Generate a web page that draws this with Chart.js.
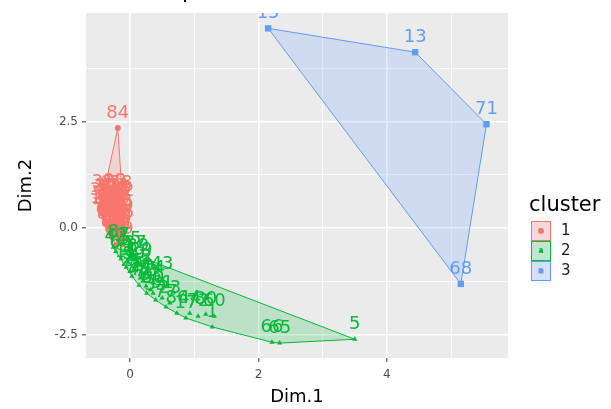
<!DOCTYPE html>
<html><head><meta charset="utf-8">
<script src="https://cdn.jsdelivr.net/npm/chart.js@4.4.1/dist/chart.umd.min.js"></script>
<style>html,body{margin:0;padding:0;background:#fff;}canvas{display:block}</style>
</head><body>
<canvas id="c" width="611" height="409"></canvas>
<script>
// ---------- data ----------
const clusterNames = ['1', '2', '3'];
const clusterColors = ['#F8766D', '#00BA38', '#619CFF'];
const clusterFills = ['rgba(248,118,109,0.2)', 'rgba(0,186,56,0.2)', 'rgba(97,156,255,0.2)'];
const clusterShapes = ['circle', 'triangle', 'rect'];

const c1X = [-0.19, -0.42, -0.33, -0.23, -0.14, -0.45, -0.37, -0.28, -0.19, -0.11, -0.44, -0.34, -0.25, -0.16,
  -0.39, -0.31, -0.22, -0.12, -0.34, -0.26, -0.17, -0.11, -0.28, -0.20, -0.12, -0.22, -0.12,
  -0.38, -0.20, -0.41, -0.23, -0.30, -0.14, -0.36, -0.19, -0.23, -0.15,
  -0.40, -0.27, -0.16, -0.35, -0.18, -0.40, -0.27, -0.20, -0.30, -0.15, -0.30, -0.17];
const c1Y = [2.35, 0.73, 0.71, 0.74, 0.70, 0.54, 0.57, 0.52, 0.55, 0.51, 0.35, 0.38, 0.33, 0.36,
  0.16, 0.19, 0.14, 0.17, -0.02, 0.01, -0.04, -0.01, -0.21, -0.18, -0.23, -0.40, -0.38,
  0.64, 0.64, 0.45, 0.44, 0.27, 0.27, 0.07, 0.08, -0.10, -0.12,
  0.60, 0.62, 0.58, 0.47, 0.42, 0.26, 0.22, 0.26, 0.10, 0.05, -0.12, -0.30];
const c1Labels = ['84', '31', '47', '22', '58', '36', '70', '41', '27', '52', '19', '63', '88', '34',
  '76', '50', '24', '39', '85', '56', '12', '45', '81', '38', '21', '67', '49',
  '30', '74', '53', '26', '87', '33', '61', '46', '78', '20',
  '4', '16', '18', '28', '32', '40', '54', '57', '62', '69', '75', '79'];

const c2X = [-0.22, -0.09, 0.00, -0.14, -0.03, 0.08, -0.06, 0.06, 0.17, 0.03, 0.16, 0.26, 0.14, 0.25, 0.37, 0.50,
  0.26, 0.36, 0.40, 0.50, 0.56, 0.62, 0.73, 0.87, 0.93, 1.06, 1.18, 1.31, 1.28, 2.21, 2.33, 3.50, -0.26,
  0.00, 0.20, 0.32, 0.12];
const c2Y = [-0.55, -0.53, -0.62, -0.72, -0.80, -0.72, -0.92, -0.96, -0.87, -1.13, -1.17, -1.03, -1.34, -1.36, -1.29, -1.20,
  -1.53, -1.53, -1.69, -1.64, -1.85, -1.76, -2.00, -2.11, -2.00, -2.07, -2.02, -2.07, -2.32, -2.68, -2.70, -2.61, -0.45,
  -1.02, -1.25, -1.45, -0.78];
const c2Labels = ['42', '7', '55', '64', '3', '37', '11', '59', '29', '25', '82', '2', '48', '73', '14', '43',
  '6', '90', '35', '51', '77', '23', '86', '17', '44', '72', '80', '60', '1', '66', '65', '5', '8',
  '9', '10', '83', '89'];

const c3X = [2.15, 4.44, 5.55, 5.15];
const c3Y = [4.69, 4.13, 2.44, -1.31];
const c3Labels = ['15', '13', '71', '68'];

const xMajorTicks = [0, 2, 4];
const xMinorTicks = [1, 3, 5];
const xTickLabels = ['0', '2', '4'];
const yMajorTicks = [-2.5, 0, 2.5];
const yMinorTicks = [-1.25, 1.25, 3.75];
const yTickLabels = ['-2.5', '0.0', '2.5'];
const xRange = [-0.685, 5.885];
const yRange = [-3.05, 5.05];

const titleText = 'Cluster plot';
const xTitle = 'Dim.1';
const yTitle = 'Dim.2';
const legendTitle = 'cluster';

// ---------- helpers ----------
function convexHull(xs, ys) {
  const pts = xs.map((x, i) => ({x: x, y: ys[i]})).sort((a, b) => a.x - b.x || a.y - b.y);
  const cross = (o, a, b) => (a.x - o.x) * (b.y - o.y) - (a.y - o.y) * (b.x - o.x);
  const lower = [];
  for (const p of pts) {
    while (lower.length >= 2 && cross(lower[lower.length - 2], lower[lower.length - 1], p) <= 0) lower.pop();
    lower.push(p);
  }
  const upper = [];
  for (let i = pts.length - 1; i >= 0; i--) {
    const p = pts[i];
    while (upper.length >= 2 && cross(upper[upper.length - 2], upper[upper.length - 1], p) <= 0) upper.pop();
    upper.push(p);
  }
  upper.pop(); lower.pop();
  const hull = lower.concat(upper);
  hull.push({x: hull[0].x, y: hull[0].y});
  return hull;
}

const clusters = [
  {x: c1X, y: c1Y, labels: c1Labels},
  {x: c2X, y: c2Y, labels: c2Labels},
  {x: c3X, y: c3Y, labels: c3Labels}
];

const datasets = [];
clusters.forEach((c, i) => {
  datasets.push({
    type: 'line',
    label: 'hull ' + clusterNames[i],
    data: convexHull(c.x, c.y),
    borderColor: clusterColors[i],
    borderWidth: 1,
    backgroundColor: clusterFills[i],
    fill: 'shape',
    pointRadius: 0,
    tension: 0,
    order: 10 + i
  });
  datasets.push({
    type: 'scatter',
    label: clusterNames[i],
    data: c.x.map((x, j) => ({x: x, y: c.y[j]})),
    pointStyle: clusterShapes[i],
    pointRadius: i === 2 ? 4.5 : 3,
    backgroundColor: clusterColors[i],
    borderColor: clusterColors[i],
    borderWidth: 0,
    pointLabelTexts: c.labels,
    order: 3 - i
  });
});

const isMajorX = v => xMajorTicks.indexOf(v) >= 0;
const isMajorY = v => yMajorTicks.indexOf(v) >= 0;

const panelPlugin = {
  id: 'panel',
  beforeDraw(chart) {
    const {ctx, chartArea: a} = chart;
    ctx.save();
    ctx.fillStyle = '#EBEBEB';
    ctx.fillRect(a.left, a.top, a.right - a.left, a.bottom - a.top);
    ctx.restore();
  }
};

const pointLabelPlugin = {
  id: 'pointLabels',
  afterDatasetsDraw(chart) {
    const {ctx, chartArea: a} = chart;
    ctx.save();
    ctx.beginPath();
    ctx.rect(a.left, a.top, a.right - a.left, a.bottom - a.top);
    ctx.clip();
    ctx.font = '18px "DejaVu Sans"';
    ctx.textAlign = 'center';
    ctx.textBaseline = 'middle';
    chart.data.datasets.forEach((ds, i) => {
      if (!ds.pointLabelTexts) return;
      const meta = chart.getDatasetMeta(i);
      ctx.fillStyle = ds.borderColor;
      meta.data.forEach((el, j) => {
        ctx.fillText(ds.pointLabelTexts[j], el.x, el.y - 15);
      });
    });
    ctx.restore();
  }
};

const decorPlugin = {
  id: 'decor',
  afterDraw(chart) {
    const ctx = chart.ctx;
    ctx.save();
    // title (mostly cropped off at the top of the picture)
    ctx.font = '22px "DejaVu Sans"';
    ctx.fillStyle = '#000';
    ctx.textAlign = 'left';
    ctx.textBaseline = 'alphabetic';
    const pre = ctx.measureText('Cluster ').width;
    ctx.fillText(titleText, 182 - pre, -2);
    // legend
    const lx = 531, ly = 221, ks = 20;
    ctx.font = '21px "DejaVu Sans"';
    ctx.textBaseline = 'middle';
    ctx.fillStyle = '#000';
    ctx.fillText(legendTitle, 529, 206);
    clusterNames.forEach((n, i) => {
      const y = ly + i * ks;
      ctx.fillStyle = '#F2F2F2';
      ctx.fillRect(lx, y, ks, ks);
      ctx.fillStyle = clusterFills[i];
      ctx.fillRect(lx, y, ks, ks);
      ctx.strokeStyle = clusterColors[i];
      ctx.lineWidth = 1;
      ctx.strokeRect(lx + 0.5, y + 0.5, ks - 1, ks - 1);
      ctx.fillStyle = clusterColors[i];
      ctx.strokeStyle = clusterColors[i];
      Chart.helpers.drawPoint(ctx, {pointStyle: clusterShapes[i], radius: i === 2 ? 3.5 : 3, borderWidth: 0, rotation: 0}, lx + ks / 2, y + ks / 2);
      ctx.font = '9px "DejaVu Sans"';
      ctx.textAlign = 'center';
      ctx.fillText('a', lx + ks / 2, y + ks / 2);
      ctx.textAlign = 'left';
      ctx.font = '15px "DejaVu Sans"';
      ctx.fillStyle = '#1A1A1A';
      ctx.fillText(n, lx + ks + 10, y + ks / 2);
    });
    ctx.restore();
  }
};

new Chart(document.getElementById('c'), {
  type: 'scatter',
  data: {datasets: datasets},
  plugins: [panelPlugin, pointLabelPlugin, decorPlugin],
  options: {
    responsive: false,
    animation: false,
    devicePixelRatio: 1,
    layout: {padding: {top: 13, right: 103, left: 0, bottom: 0}},
    plugins: {legend: {display: false}, tooltip: {enabled: false}},
    scales: {
      x: {
        type: 'linear', min: xRange[0], max: xRange[1],
        afterBuildTicks: s => { s.ticks = xMajorTicks.concat(xMinorTicks).sort((a, b) => a - b).map(v => ({value: v})); },
        afterFit: s => { s.height = 51; },
        ticks: {
          callback: v => isMajorX(v) ? xTickLabels[xMajorTicks.indexOf(v)] : '',
          color: '#4D4D4D', font: {family: 'DejaVu Sans', size: 12}, padding: 6, autoSkip: false, maxRotation: 0
        },
        grid: {
          color: '#FFFFFF',
          lineWidth: c => (c.tick && isMajorX(c.tick.value)) ? 1.6 : 0.8,
          tickColor: c => (c.tick && isMajorX(c.tick.value)) ? '#333333' : 'rgba(0,0,0,0)',
          tickLength: 4, tickWidth: 1, drawTicks: true
        },
        border: {display: false},
        title: {display: true, text: xTitle, color: '#000', font: {family: 'DejaVu Sans', size: 18}, padding: {top: 0, bottom: 1}}
      },
      y: {
        type: 'linear', min: yRange[0], max: yRange[1],
        afterBuildTicks: s => { s.ticks = yMajorTicks.concat(yMinorTicks).sort((a, b) => a - b).map(v => ({value: v})); },
        afterFit: s => { s.width = 86; },
        ticks: {
          callback: v => isMajorY(v) ? yTickLabels[yMajorTicks.indexOf(v)] : '',
          color: '#4D4D4D', font: {family: 'DejaVu Sans', size: 12}, padding: 4, autoSkip: false
        },
        grid: {
          color: '#FFFFFF',
          lineWidth: c => (c.tick && isMajorY(c.tick.value)) ? 1.6 : 0.8,
          tickColor: c => (c.tick && isMajorY(c.tick.value)) ? '#333333' : 'rgba(0,0,0,0)',
          tickLength: 4, tickWidth: 1, drawTicks: true
        },
        border: {display: false},
        title: {display: true, text: yTitle, color: '#000', font: {family: 'DejaVu Sans', size: 18}, padding: {top: 16, bottom: 0}}
      }
    }
  }
});
</script>
</body></html>
